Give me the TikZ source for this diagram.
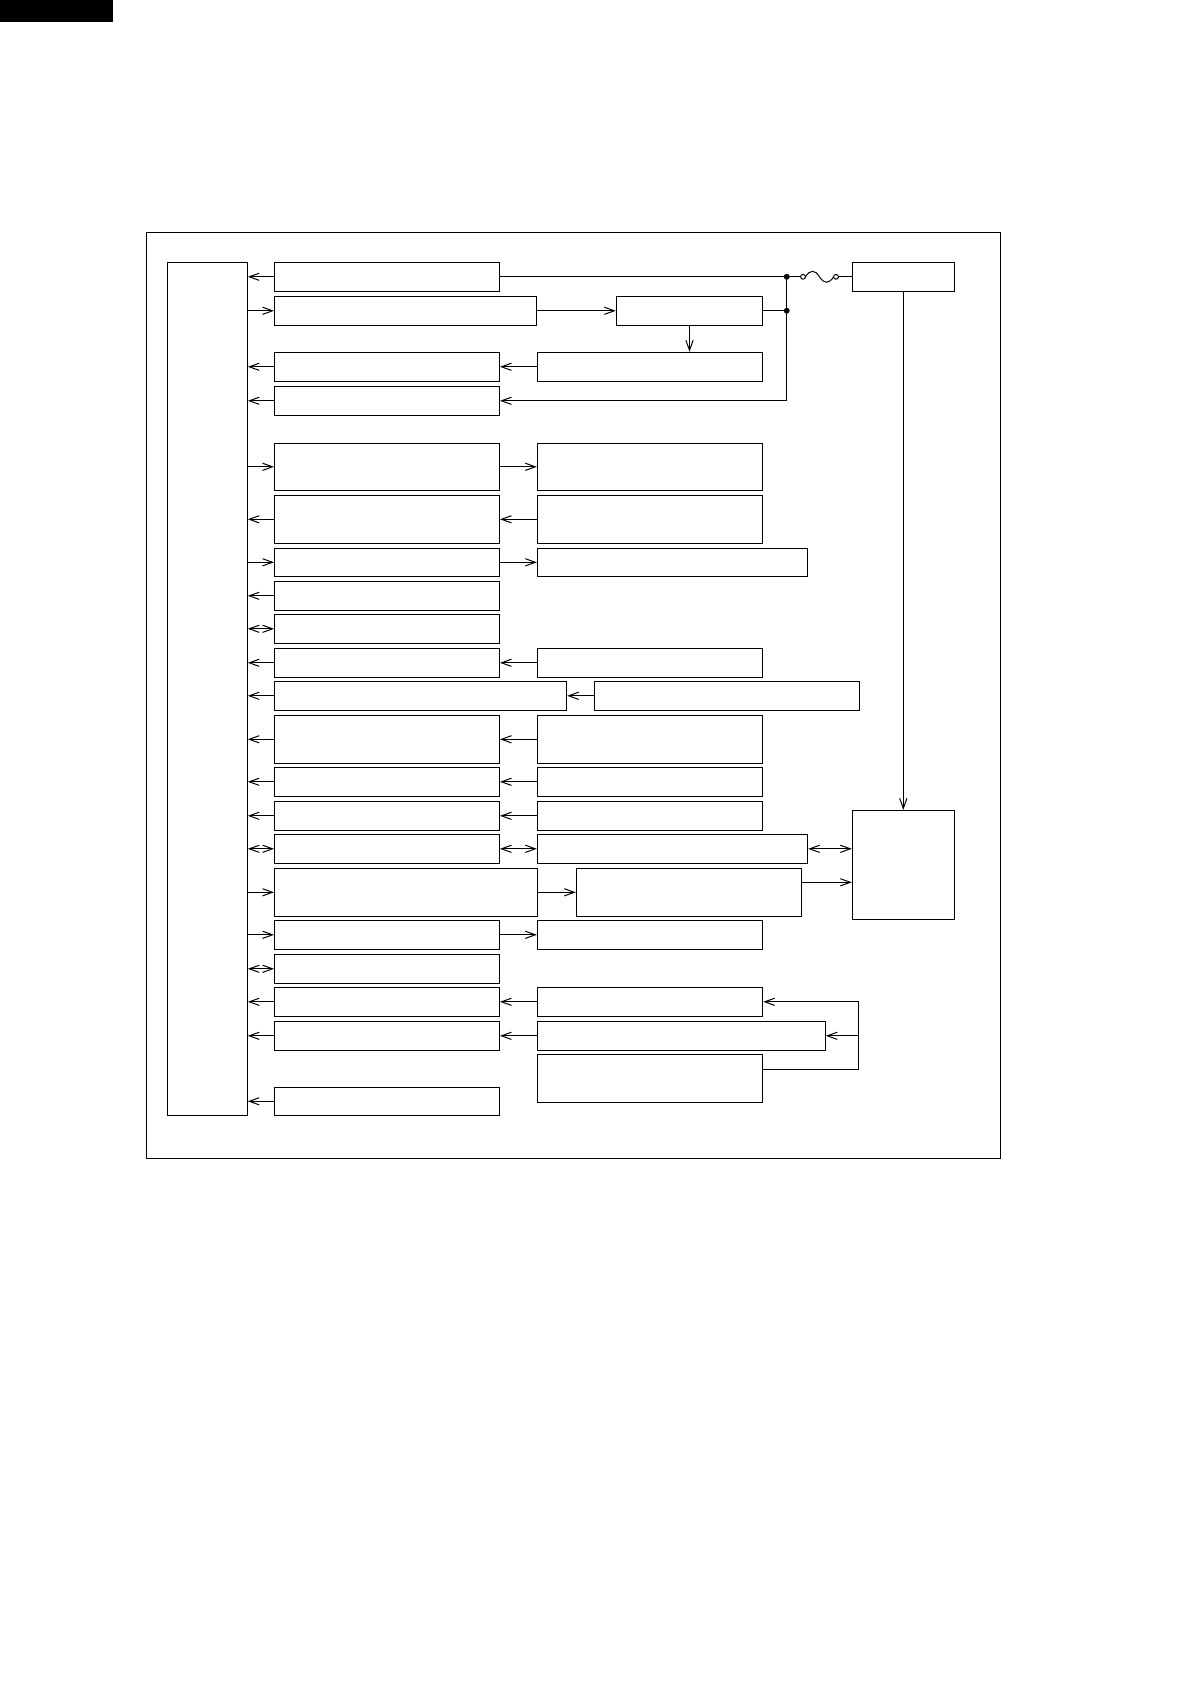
\documentclass[tikz,border=0pt]{standalone}
\usetikzlibrary{arrows.meta, fit}

\begin{document}
\begin{tikzpicture}[x=0.5pt, y=-0.5pt, line width=0.5pt,
        blk/.style={draw, inner sep=0pt, fit={#1}},
        >={Straight Barb[length=5pt, width=3.6pt]}]

        \useasboundingbox (0,0) rectangle (1190,1684);
        \fill (0,0) rectangle (113,21.7);
        \draw (146.3,232.3) rectangle (1000,1158);

        \node[blk={(167.3,262.3) (247.3,1115.3)}] (mcu) {};

        \node[blk={(274.5,262.3) (499.5,291.3)}] (a1) {};
        \node[blk={(274.5,296.3) (536.7,325.3)}] (a2) {};
        \node[blk={(274.5,352.3) (499.5,381.3)}] (a3) {};
        \node[blk={(274.5,386.3) (499.5,415.3)}] (a4) {};
        \node[blk={(274.5,443.3) (499.5,490.3)}] (a5) {};
        \node[blk={(274.5,495.3) (499.5,543.3)}] (a6) {};
        \node[blk={(274.5,548.3) (499.5,576.3)}] (a7) {};
        \node[blk={(274.5,581.3) (499.5,610.3)}] (a8) {};
        \node[blk={(274.5,614.3) (499.5,643.3)}] (a9) {};
        \node[blk={(274.5,648.3) (499.5,677.3)}] (a10) {};
        \node[blk={(274.5,681.3) (566.7,710.3)}] (a11) {};
        \node[blk={(274.5,715.3) (499.5,763.3)}] (a12) {};
        \node[blk={(274.5,767.3) (499.5,796.3)}] (a13) {};
        \node[blk={(274.5,801.3) (499.5,830.3)}] (a14) {};
        \node[blk={(274.5,834.3) (499.5,863.3)}] (a15) {};
        \node[blk={(274.5,868.3) (537.7,916.3)}] (a16) {};
        \node[blk={(274.5,920.3) (499.5,949.3)}] (a17) {};
        \node[blk={(274.5,954.3) (499.5,983.3)}] (a18) {};
        \node[blk={(274.5,987.3) (499.5,1016.3)}] (a19) {};
        \node[blk={(274.5,1021.3) (499.5,1050.3)}] (a20) {};
        \node[blk={(274.5,1087.3) (499.5,1115.3)}] (a21) {};

        \node[blk={(616.3,296.3) (762.7,325.3)}] (ctl) {};
        \node[blk={(537.3,352.3) (762.7,381.3)}] (b3) {};
        \node[blk={(537.3,443.3) (762.7,490.3)}] (b5) {};
        \node[blk={(537.3,495.3) (762.7,543.3)}] (b6) {};
        \node[blk={(537.3,548.3) (807.7,576.3)}] (b7) {};
        \node[blk={(537.3,648.3) (762.7,677.3)}] (b10) {};
        \node[blk={(594.3,681.3) (859.3,710.3)}] (b11) {};
        \node[blk={(537.3,715.3) (762.7,763.3)}] (b12) {};
        \node[blk={(537.3,767.3) (762.7,796.3)}] (b13) {};
        \node[blk={(537.3,801.3) (762.7,830.3)}] (b14) {};
        \node[blk={(537.3,834.3) (807.7,863.3)}] (b15) {};
        \node[blk={(576.3,868.3) (801.7,916.3)}] (b16) {};
        \node[blk={(537.3,920.3) (762.7,949.3)}] (b17) {};
        \node[blk={(537.3,987.3) (762.7,1016.3)}] (b19) {};
        \node[blk={(537.3,1021.3) (825.3,1050.3)}] (b20) {};
        \node[blk={(537.3,1054.3) (762.7,1102.3)}] (b21) {};

        \node[blk={(852.3,262.3) (954.3,291.3)}] (psu) {};
        \node[blk={(852.3,810.3) (954.3,919.3)}] (drv) {};

        \draw[->] (a1.west) -- (a1.west -| mcu.east);
        \draw[->] (a2.west -| mcu.east) -- (a2.west);
        \draw[->] (a3.west) -- (a3.west -| mcu.east);
        \draw[->] (a4.west) -- (a4.west -| mcu.east);
        \draw[->] (a5.west -| mcu.east) -- (a5.west);
        \draw[->] (a6.west) -- (a6.west -| mcu.east);
        \draw[->] (a7.west -| mcu.east) -- (a7.west);
        \draw[->] (a8.west) -- (a8.west -| mcu.east);
        \draw[<->] (a9.west -| mcu.east) -- (a9.west);
        \draw[->] (a10.west) -- (a10.west -| mcu.east);
        \draw[->] (a11.west) -- (a11.west -| mcu.east);
        \draw[->] (a12.west) -- (a12.west -| mcu.east);
        \draw[->] (a13.west) -- (a13.west -| mcu.east);
        \draw[->] (a14.west) -- (a14.west -| mcu.east);
        \draw[<->] (a15.west -| mcu.east) -- (a15.west);
        \draw[->] (a16.west -| mcu.east) -- (a16.west);
        \draw[->] (a17.west -| mcu.east) -- (a17.west);
        \draw[<->] (a18.west -| mcu.east) -- (a18.west);
        \draw[->] (a19.west) -- (a19.west -| mcu.east);
        \draw[->] (a20.west) -- (a20.west -| mcu.east);
        \draw[->] (a21.west) -- (a21.west -| mcu.east);

        \draw[->] (a2.east) -- (ctl.west);
        \draw[->] (ctl.south) -- (ctl.south |- b3.north);
        \draw[->] (b3.west) -- (a3.east);
        \draw[->] (a5.east) -- (b5.west);
        \draw[->] (b6.west) -- (a6.east);
        \draw[->] (a7.east) -- (a7.east -| b7.west);
        \draw[->] (b10.west) -- (a10.east);
        \draw[->] (b11.west) -- (a11.east);
        \draw[->] (b12.west) -- (a12.east);
        \draw[->] (b13.west) -- (a13.east);
        \draw[->] (b14.west) -- (a14.east);
        \draw[<->] (a15.east) -- (a15.east -| b15.west);
        \draw[->] (a16.east) -- (b16.west);
        \draw[->] (a17.east) -- (b17.west);
        \draw[->] (b19.west) -- (a19.east);
        \draw[->] (b20.west) -- (a20.east);

        \draw[<->] (b15.east) -- (b15.east -| drv.west);
        \draw[->] ([yshift=5pt]b16.east) -- ([yshift=5pt]b16.east -| drv.west);
        \draw[->] (psu.south) -- (drv.north);

        \coordinate (jtop) at (786.7,276.8);
        \coordinate (jmid) at (786.7,310.8);
        \coordinate (fz1) at (803,276.8);
        \coordinate (fz2) at (836,276.8);

        \draw (a1.east) -- (jtop);
        \draw (ctl.east) -- (jmid);
        \draw[->] (jtop) |- (a4.east);
        \filldraw (jtop) circle (1.2pt);
        \filldraw (jmid) circle (1.2pt);

        \draw (jtop) -- ([xshift=-1.2pt]fz1);
        \draw (fz1) circle (1.2pt);
        \draw (fz2) circle (1.2pt);
        \draw ([xshift=1.2pt]fz1) .. controls (810,269.5) and (815,269.5) .. (819.5,276.8)
            .. controls (824,284.1) and (829,284.1) .. ([xshift=-1.2pt]fz2);
        \draw ([xshift=1.2pt]fz2) -- (psu.west);

        \coordinate (fb) at (858.3,1069);
        \draw[->] (b21.east |- fb) -- (fb) |- (b19.east);
        \draw[->] (fb |- b20.east) -- (b20.east);

    \end{tikzpicture}
\end{document}
